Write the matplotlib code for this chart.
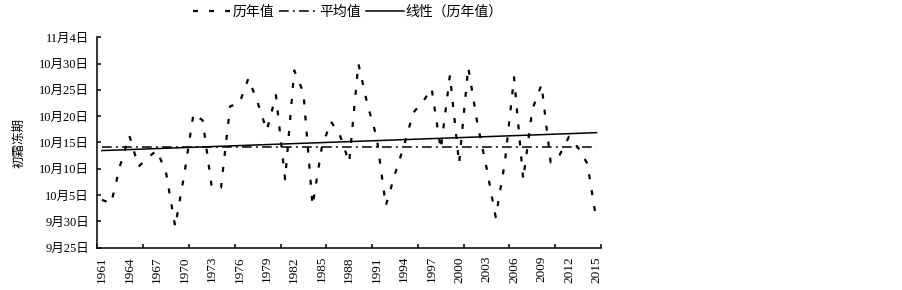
import matplotlib
matplotlib.use('Agg')
import matplotlib.pyplot as plt
import numpy as np

plt.rcParams['lines.scale_dashes'] = False
plt.rcParams['font.family'] = ['Liberation Serif', 'Noto Sans CJK SC', 'DejaVu Sans']

# ---- data (days counted from 9月30日; 10月5日 = 5) ----
years = list(range(1961, 2016))
frost_day = [4.1, 3.4, 10.7, 16.3, 10.4, 12.1, 13.5, 9.3, -1.0, 9.0,
             20.5, 19.2, 6.4, 6.4, 21.9, 22.4, 27.2, 22.6, 17.3, 24.0,
             8.0, 28.7, 24.5, 3.0, 14.0, 19.0, 16.3, 11.2, 30.0, 22.2,
             16.0, 3.0, 9.0, 14.5, 20.7, 22.6, 25.3, 13.7, 27.8, 11.0,
             29.3, 18.6, 10.2, 0.8, 11.2, 27.4, 8.0, 21.3, 26.0, 11.2,
             12.7, 16.1, 14.0, 11.0, 0.2]
mean_value = 14.2
ytick_vals = [-5, 0, 5, 10, 15, 20, 25, 30, 35]
ytick_labels = ['9月25日', '9月30日', '10月5日', '10月10日', '10月15日',
                '10月20日', '10月25日', '10月30日', '11月4日']
series_names = ['历年值', '平均值', '线性（历年值）']

fig = plt.figure(figsize=(9.03, 2.9), dpi=100)
ax = fig.add_axes([0.1078, 0.1459, 0.5578, 0.7255])

x = np.arange(len(years))
ax.plot(x, frost_day, color='black', lw=1.6, linestyle=(0, (3.6, 8.0)),
        label=series_names[0])
ax.plot(x, [mean_value] * len(x), color='black', lw=1.1,
        linestyle=(0, (7, 3, 1.4, 3)), label=series_names[1])
coef = np.polyfit(x, frost_day, 1)
ax.plot(x, np.polyval(coef, x), color='black', lw=1.1, label=series_names[2])

ax.set_xlim(-0.5, len(years) - 0.5)
ax.set_ylim(-5, 35)
for s in ['top', 'right']:
    ax.spines[s].set_visible(False)
for s in ['left', 'bottom']:
    ax.spines[s].set_linewidth(1.1)

ax.set_xticks(x[::3])
ax.set_xticklabels([str(y) for y in years[::3]], rotation=90, fontsize=9.5)
ax.set_xticks(np.arange(-0.5, len(years), 5), minor=True)
ax.tick_params(axis='x', which='major', length=0, pad=6)
ax.tick_params(axis='x', which='minor', direction='in', length=3, width=1.1)
ax.set_yticks(ytick_vals)
ax.set_yticklabels(ytick_labels, fontsize=9)
ax.tick_params(axis='y', direction='in', length=3, width=1.1, pad=6)

fig.text(0.022, 0.507, '初霜冻期', rotation=90, fontsize=9,
         ha='center', va='center')

fig.legend(loc='center', bbox_to_anchor=(0.385, 0.958), ncol=3,
           frameon=False, fontsize=10, handlelength=2.7, handletextpad=0.15,
           columnspacing=0.4)

fig.savefig('out.png', dpi=100)
